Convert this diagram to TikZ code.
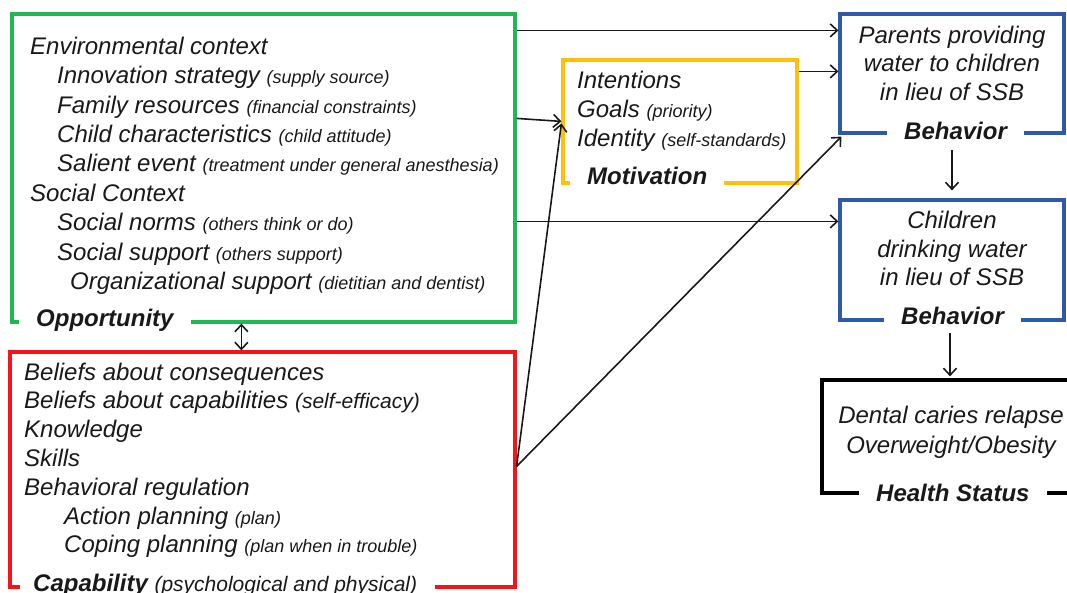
\documentclass[tikz,border=0pt]{standalone}
\usepackage{fontspec}
\setmainfont{Liberation Sans}
\usetikzlibrary{arrows.meta}
\definecolor{cgreen}{RGB}{30,185,80}
\definecolor{cred}{RGB}{245,20,25}
\definecolor{cyellow}{RGB}{255,192,10}
\definecolor{cblue}{RGB}{45,90,170}
\definecolor{ctext}{RGB}{25,25,25}
\newcommand\smtxt[1]{{\fontsize{18}{20}\selectfont #1}}
\newcommand\mdtxt[1]{{\fontsize{21}{23}\selectfont #1}}
\tikzset{
  box/.style={draw, line width=3.2pt, inner sep=0pt, fill=none},
  line/.style={anchor=base west, inner sep=0pt, text=ctext, font=\fontsize{24}{28}\selectfont\itshape},
  cline/.style={line, anchor=base},
  lab/.style={anchor=base west, fill=white, inner xsep=17pt, inner ysep=3pt, text=ctext, font=\fontsize{24}{28}\selectfont\bfseries\itshape},
  arr/.style={draw=ctext, line width=1.6pt, -{Straight Barb[length=7pt,width=13pt,line width=1.6pt]}},
  darr/.style={draw=ctext, line width=1.6pt, {Straight Barb[length=7pt,width=13pt,line width=1.6pt]}-{Straight Barb[length=7pt,width=13pt,line width=1.6pt]}}
}
\begin{document}
\begin{tikzpicture}[x=1pt,y=-1pt]
\useasboundingbox (0,0) rectangle (1067,592);
% boxes
\node[box, draw=cgreen, minimum width=503pt, minimum height=308pt] (opp) at (263.5,168) {};
\node[box, draw=cred, minimum width=505pt, minimum height=235pt] (cap) at (262.5,469.5) {};
\node[box, draw=cyellow, minimum width=234pt, minimum height=123pt] (mot) at (680,121.5) {};
\node[box, draw=cblue, minimum width=224pt, minimum height=119pt] (par) at (952,73.5) {};
\node[box, draw=cblue, minimum width=224pt, minimum height=120pt] (chi) at (952,260) {};
\node[box, draw=black, minimum width=278pt, minimum height=113pt] (hs) at (961,436.5) {};
% green text
\node[line] (g1) at (30,54) {Environmental context};
\node[line] (g2) at (57,83.5) {Innovation strategy \smtxt{(supply source)}};
\node[line] (g3) at (57,113) {Family resources \smtxt{(financial constraints)}};
\node[line] (g4) at (57,142.3) {Child characteristics \smtxt{(child attitude)}};
\node[line] (g5) at (57,171.7) {Salient event \smtxt{(treatment under general anesthesia)}};
\node[line] (g6) at (30,201.2) {Social Context};
\node[line] (g7) at (57,230.6) {Social norms \smtxt{(others think or do)}};
\node[line] (g8) at (57,260) {Social support \smtxt{(others support)}};
\node[line] (g9) at (70,289.4) {Organizational support \smtxt{(dietitian and dentist)}};
\node[lab] (oppl) at (19,326) {Opportunity};
% red text
\node[line] (r1) at (24,380) {Beliefs about consequences};
\node[line] (r2) at (24,408.8) {Beliefs about capabilities \mdtxt{(self-efficacy)}};
\node[line] (r3) at (24,437.6) {Knowledge};
\node[line] (r4) at (24,466.4) {Skills};
\node[line] (r5) at (24,495.2) {Behavioral regulation};
\node[line] (r6) at (64,524) {Action planning \smtxt{(plan)}};
\node[line] (r7) at (64,552.8) {Coping planning \smtxt{(plan when in trouble)}};
\node[lab, inner xsep=0pt] (capl) at (20,591) {\hspace*{13pt}Capability \mdseries\mdtxt{(psychological and physical)}\hspace*{18pt}};
% yellow text
\node[line] (m1) at (577,88) {Intentions};
\node[line] (m2) at (577,117) {Goals \smtxt{(priority)}};
\node[line] (m3) at (577,146) {Identity \smtxt{(self-standards)}};
\node[lab] (motl) at (570,184) {Motivation};
% blue 1
\node[cline] (p1) at (952,43) {Parents providing};
\node[cline] (p2) at (952,71.5) {water to children};
\node[cline] (p3) at (952,100) {in lieu of SSB};
\node[lab] (parl) at (887,139) {Behavior};
% blue 2
\node[cline] (c1) at (952,228) {Children};
\node[cline] (c2) at (952,257) {drinking water};
\node[cline] (c3) at (952,285.5) {in lieu of SSB};
\node[lab] (chil) at (884,324) {Behavior};
% black
\node[cline] (h1) at (951,423) {Dental caries relapse};
\node[cline] (h2) at (951,453) {Overweight/Obesity};
\node[lab] (hsl) at (859,501) {Health Status};
% connectors
\draw[arr] ([yshift=-18pt]opp.north east) -- ([yshift=-18pt]par.north west);
\draw[arr] ([yshift=-106pt]opp.north east) -- ([yshift=-63pt]mot.north west);
\draw[arr] ([yshift=-209pt]opp.north east) -- ([yshift=-23pt]chi.north west);
\draw[arr] ([yshift=-13pt]mot.north east) -- ([yshift=-59pt]par.north west);
\draw[arr] ([yshift=-116pt]cap.north east) -- ([yshift=-65pt]mot.north west);
\draw[arr] ([yshift=-116pt]cap.north east) -- ([xshift=3pt,yshift=-2pt]par.south west);
\draw[darr] ([xshift=231pt]opp.south west) -- ([xshift=233pt]cap.north west);
\draw[arr, shorten <=8pt, shorten >=8pt] (parl.south -| par.south) -- (chi.north);
\draw[arr, shorten <=6pt, shorten >=2pt] (chil.south -| 950,0) -- (hs.north -| 950,0);
\end{tikzpicture}
\end{document}
